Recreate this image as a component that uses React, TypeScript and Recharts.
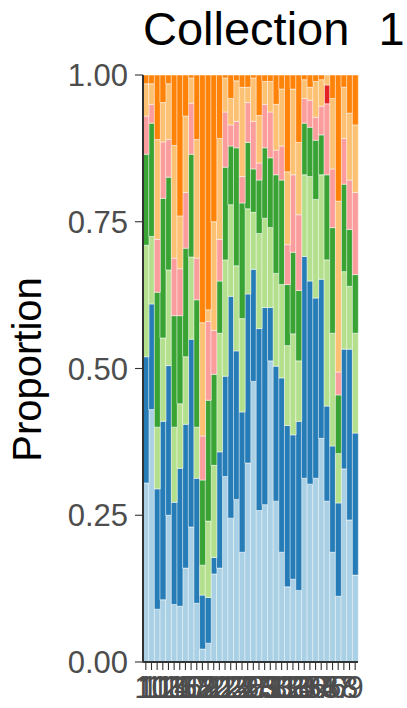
import { Bar, BarChart, CartesianGrid, XAxis, YAxis } from 'recharts';

// sample ids, sorted as text the way the source plot orders them
const samples = [
  '1', '10', '11', '12', '13', '14', '15', '16', '17', '18', '19',
  '2', '20', '21', '22', '23', '24', '25', '26', '27', '28', '29',
  '3', '30', '31', '32', '33', '34', '35', '36', '37', '38',
  '4', '5', '6', '7', '8', '9',
];

// proportion of each group per sample (stacked bottom -> top)
const lightBlue = [0.305, 0.43, 0.09, 0.106, 0.25, 0.098, 0.095, 0.16, 0.23, 0.1, 0.022, 0.032, 0.15, 0.16, 0.316, 0.245, 0.277, 0.187, 0.339, 0.478, 0.258, 0.268, 0.513, 0.274, 0.187, 0.128, 0.141, 0.122, 0.313, 0.303, 0.313, 0.381, 0.274, 0.187, 0.112, 0.329, 0.242, 0.148];
const blue = [0.215, 0.18, 0.205, 0.304, 0.255, 0.174, 0.235, 0.245, 0.32, 0.213, 0.092, 0.078, 0.028, 0.198, 0.171, 0.378, 0.253, 0.239, 0.288, 0.191, 0.31, 0.336, 0.091, 0.23, 0.297, 0.275, 0.246, 0.288, 0.378, 0.346, 0.307, 0.271, 0.162, 0.181, 0.159, 0.204, 0.291, 0.242];
const lightGreen = [0.19, 0.115, 0.105, 0.142, 0.163, 0.128, 0.11, 0.115, 0.14, 0.087, 0.051, 0.13, 0.157, 0.202, 0.198, 0.156, 0.145, 0.159, 0.145, 0.097, 0.162, 0.152, 0.136, 0.158, 0.159, 0.136, 0.172, 0.103, 0.139, 0.178, 0.168, 0.178, 0.249, 0.192, 0.084, 0.132, 0.107, 0.17];
const green = [0.155, 0.193, 0.23, 0.238, 0.158, 0.19, 0.15, 0.185, 0.175, 0.217, 0.145, 0.206, 0.155, 0.089, 0.158, 0.1, 0.201, 0.197, 0.113, 0.074, 0.091, 0.12, 0.119, 0.168, 0.178, 0.104, 0.139, 0.12, 0.088, 0.084, 0.101, 0.068, 0.145, 0.18, 0.1, 0.149, 0.097, 0.1];
const pink = [0.065, 0.032, 0.09, 0.096, 0.064, 0.098, 0.08, 0.095, 0.087, 0.071, 0.075, 0.134, 0.075, 0.071, 0.094, 0.036, 0.045, 0.045, 0.068, 0.081, 0.029, 0.074, 0.078, 0.042, 0.058, 0.068, 0.132, 0.129, 0.042, 0.046, 0.039, 0.049, 0.121, 0.1, 0.039, 0.078, 0.084, 0.14];
const red = [0, 0, 0, 0, 0, 0, 0, 0, 0, 0, 0, 0, 0, 0, 0, 0, 0, 0, 0, 0, 0, 0, 0, 0, 0, 0, 0, 0, 0, 0, 0, 0, 0.032, 0, 0, 0, 0, 0];
const lightOrange = [0.055, 0.035, 0.17, 0.067, 0.095, 0.192, 0.09, 0.13, 0.043, 0.202, 0.193, 0.02, 0.185, 0.172, 0.058, 0.045, 0.069, 0.152, 0.026, 0.074, 0.081, 0.039, 0.052, 0.078, 0.097, 0.124, 0.146, 0.123, 0.032, 0.022, 0.061, 0.045, 0.017, 0.12, 0.291, 0.087, 0.114, 0.115];
const orange = [0.015, 0.015, 0.11, 0.047, 0.015, 0.12, 0.24, 0.07, 0.005, 0.11, 0.422, 0.4, 0.25, 0.108, 0.005, 0.04, 0.01, 0.021, 0.021, 0.005, 0.069, 0.011, 0.011, 0.05, 0.024, 0.165, 0.024, 0.115, 0.008, 0.021, 0.011, 0.008, 0, 0.04, 0.215, 0.021, 0.065, 0.085];

const yTicks = [0, 0.25, 0.5, 0.75, 1];
const minorGrid = [0.125, 0.375, 0.625, 0.875];

const groups = [
  { key: 'lightBlue', color: '#A6CEE3', values: lightBlue },
  { key: 'blue', color: '#1F78B4', values: blue },
  { key: 'lightGreen', color: '#B2DF8A', values: lightGreen },
  { key: 'green', color: '#33A02C', values: green },
  { key: 'pink', color: '#FB9A99', values: pink },
  { key: 'red', color: '#E31A1C', values: red },
  { key: 'lightOrange', color: '#FDBF6F', values: lightOrange },
  { key: 'orange', color: '#FF7F00', values: orange },
];

const data = samples.map((sample, i) => {
  const row: Record<string, string | number> = { sample };
  groups.forEach((g) => {
    row[g.key] = g.values[i];
  });
  return row;
});

const FONT = '"Liberation Sans", Arial, Helvetica, sans-serif';
const AXIS = '#333333';
const TEXT = '#4D4D4D';

export default function App() {
  return (
    <div style={{ position: 'absolute', left: 0, top: 0, width: 407, height: 708, background: '#fff', fontFamily: FONT }}>
      <BarChart
        width={407}
        height={708}
        data={data}
        barCategoryGap={0}
        margin={{ top: 75, right: 49, bottom: 0, left: 0 }}
        style={{ fontFamily: FONT }}
      >
        <CartesianGrid fill="#EBEBEB" vertical={false} stroke="#ffffff" strokeWidth={1.1} />
        <CartesianGrid vertical={false} horizontalValues={minorGrid} stroke="#ffffff" strokeWidth={0.5} />
        <XAxis
          dataKey="sample"
          interval={0}
          height={46}
          tickSize={8}
          tickMargin={6}
          tick={{ fontSize: 31, fill: TEXT }}
          tickLine={{ stroke: AXIS, strokeWidth: 1.1 }}
          axisLine={{ stroke: AXIS, strokeWidth: 2 }}
        />
        <XAxis
          xAxisId="top"
          dataKey="sample"
          orientation="top"
          height={0}
          tick={false}
          tickLine={false}
          axisLine={{ stroke: AXIS, strokeWidth: 1.5 }}
        />
        <YAxis
          type="number"
          domain={[0, 1]}
          ticks={yTicks}
          allowDataOverflow
          width={143}
          tickSize={8}
          tickMargin={7}
          tickFormatter={(v: number) => v.toFixed(2)}
          tick={{ fontSize: 31, fill: TEXT }}
          tickLine={{ stroke: AXIS, strokeWidth: 1.1 }}
          axisLine={{ stroke: AXIS, strokeWidth: 2 }}
        />
        <YAxis
          yAxisId="right"
          orientation="right"
          type="number"
          domain={[0, 1]}
          width={0}
          tick={false}
          tickLine={false}
          axisLine={{ stroke: AXIS, strokeWidth: 1.5 }}
        />
        {groups.map((g) => (
          <Bar
            key={g.key}
            dataKey={g.key}
            stackId="prop"
            fill={g.color}
            fillOpacity={0.97}
            stroke="#ffffff"
            strokeWidth={0.5}
            isAnimationActive={false}
          />
        ))}
      </BarChart>
      <svg width={407} height={708} style={{ position: 'absolute', left: 0, top: 0, pointerEvents: 'none' }}>
        <text x={143} y={45} fontSize={47} fill="#000" fontFamily={FONT} xmlSpace="preserve" style={{ whiteSpace: 'pre' }}>
          {'Collection  '}
          <tspan dx={3}>1</tspan>
        </text>
        <text
          x={0}
          y={0}
          transform="translate(41 369.5) rotate(-90)"
          textAnchor="middle"
          fontSize={40}
          fill="#000"
          fontFamily={FONT}
        >
          Proportion
        </text>
      </svg>
    </div>
  );
}
